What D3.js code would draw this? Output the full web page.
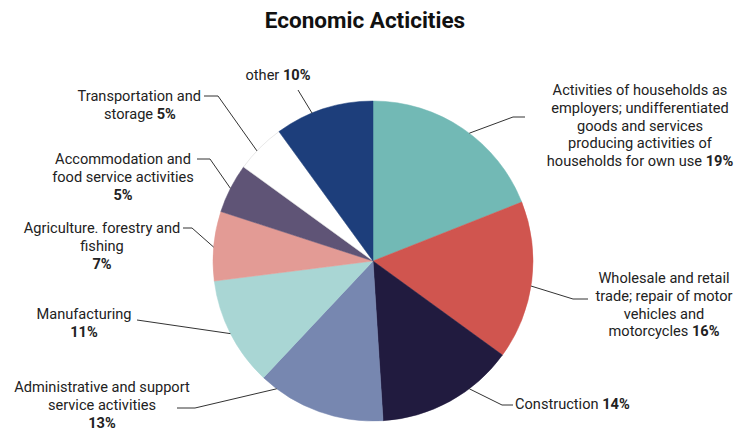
<!DOCTYPE html>
<html><head><meta charset="utf-8">
<script src="https://cdn.jsdelivr.net/npm/d3@7"></script>
<style>body{margin:0;background:#fff}svg{display:block}</style>
</head><body>
<svg id="chart" width="737" height="432"></svg>
<script>
const categories = [
  "Activities of households as employers; undifferentiated goods and services producing activities of households for own use",
  "Wholesale and retail trade; repair of motor vehicles and motorcycles",
  "Construction",
  "Administrative and support service activities",
  "Manufacturing",
  "Agriculture. forestry and fishing",
  "Accommodation and food service activities",
  "Transportation and storage",
  "other"
];
const values = [19, 16, 14, 13, 11, 7, 5, 5, 10];
const colors = ["#72b9b5", "#d0554f", "#211b3f", "#7787b0", "#a9d6d4", "#e39b95", "#5f5476", "#ffffff", "#1d3e7b"];
// label text lines (last line gets the bold percentage appended)
const labelLines = [
  ["Activities of households as", "employers; undifferentiated", "goods and services", "producing activities of", "households for own use"],
  ["Wholesale and retail", "trade; repair of motor", "vehicles and", "motorcycles"],
  ["Construction"],
  ["Administrative and support", "service activities", ""],
  ["Manufacturing", ""],
  ["Agriculture. forestry and", "fishing", ""],
  ["Accommodation and", "food service activities", ""],
  ["Transportation and", "storage"],
  ["other"]
];

// layout: text anchor point, pointer anchor angle (deg), elbow points
const layout = [
  {tx: 640, ty: 95, anchor: "middle", ang: 37, elbow: [[513,117],[525,117]]},
  {tx: 664, ty: 283, anchor: "middle", ang: 99, elbow: [[573,299],[588,299]]},
  {tx: 515, ty: 409, anchor: "start", ang: 143, elbow: [[502,405],[513,405]]},
  {tx: 102, ty: 392, anchor: "middle", ang: 217, elbow: [[195,408],[177,408]]},
  {tx: 84, ty: 319, anchor: "middle", ang: 243, elbow: [[137,320]]},
  {tx: 102, ty: 233, anchor: "middle", ang: 275, elbow: [[192,228],[183,228]]},
  {tx: 123, ty: 164, anchor: "middle", ang: 297, elbow: [[210,159],[197,159]]},
  {tx: 140, ty: 101, anchor: "middle", ang: 313.5, elbow: [[218,96],[204,96]], firstRight: 201},
  {tx: 278, ty: 80, anchor: "middle", ang: 337.6, elbow: [[298,90]]}
];

const svg = d3.select("#chart");
const cx = 373, cy = 261, r = 160;
const font = "Roboto, 'DejaVu Sans', sans-serif";

svg.append("text")
  .attr("x", 365).attr("y", 28)
  .attr("text-anchor", "middle")
  .attr("font-family", font)
  .attr("font-weight", 700)
  .attr("font-size", 22.5)
  .attr("fill", "#111")
  .text("Economic Acticities");

const pie = d3.pie().sort(null).value(d => d)(values);
const arc = d3.arc().innerRadius(0).outerRadius(r);
const g = svg.append("g").attr("transform", `translate(${cx},${cy})`);
g.selectAll("path").data(pie).join("path")
  .attr("d", arc)
  .attr("fill", (d, i) => colors[i])
  .attr("stroke", (d, i) => colors[i] === "#ffffff" ? "#d8d8d8" : colors[i])
  .attr("stroke-width", (d, i) => colors[i] === "#ffffff" ? 0.6 : 0.5);

const lh = 17.8;

pie.forEach((d, i) => {
  const L = layout[i];
  const a = L.ang * Math.PI / 180;
  const px = cx + r * Math.sin(a), py = cy - r * Math.cos(a);
  const pts = [[px, py], ...L.elbow];
  svg.append("path")
    .attr("d", d3.line()(pts))
    .attr("fill", "none")
    .attr("stroke", "#333")
    .attr("stroke-width", 1);

  const lines = labelLines[i];
  lines.forEach((ln, j) => {
    const isFirstRight = j === 0 && L.firstRight;
    const t = svg.append("text")
      .attr("font-family", font)
      .attr("font-size", 14.6)
      .attr("fill", "#222")
      .attr("x", isFirstRight ? L.firstRight : L.tx)
      .attr("y", L.ty + j * lh)
      .attr("text-anchor", isFirstRight ? "end" : L.anchor);
    if (ln) t.append("tspan").text(ln);
    if (j === lines.length - 1) {
      t.append("tspan").attr("font-weight", 700).text((ln ? " " : "") + values[i] + "%");
    }
  });
});
</script>
</body></html>
